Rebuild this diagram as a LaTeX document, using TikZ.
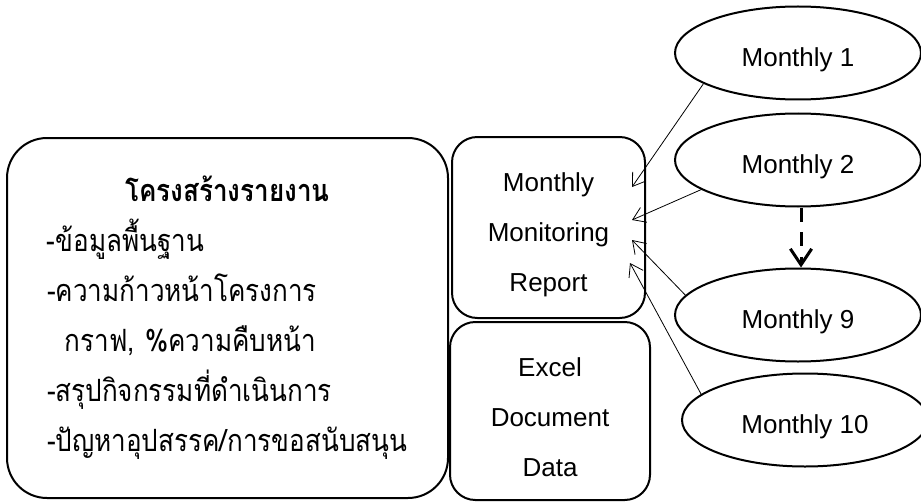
\documentclass[tikz,border=0pt]{standalone}
\usepackage{fontspec}
\setmainfont{Liberation Sans}
\newfontfamily\thaifont[Script=Thai,FakeStretch=0.85]{Loma}
\usetikzlibrary{shapes.geometric,arrows.meta}

\begin{document}
\begin{tikzpicture}[x=0.75pt,y=-0.75pt,
    box/.style={draw,line width=1.5pt,rounded corners=19pt,align=center,
        font=\fontsize{19.5}{37.5}\selectfont},
    month/.style={draw,ellipse,line width=1.5pt,minimum width=184.5pt,
        minimum height=69.75pt,text height=20pt,text depth=0pt,
        font=\fontsize{19.5}{23}\selectfont},
    feed/.style={-{Straight Barb[length=9pt,width=12pt]},line width=0.6pt}]
    % Frame
    \useasboundingbox (0,0) rectangle (921,503);

    % Report structure
    \node[box,rounded corners=30pt,minimum width=330.75pt,minimum height=270pt,
        text width=270.75pt,align=left,font=\thaifont\fontsize{23}{37.5}\selectfont]
        (structure) at (227.5,318)
        {\makebox[\linewidth]{\bfseries โครงสร้างรายงาน}\\
         \mbox{-ข้อมูลพื้นฐาน}\\
         \mbox{-ความก้าวหน้าโครงการ}\\
         \mbox{\hspace*{13.5pt}กราฟ, \%ความคืบหน้า}\\
         \mbox{-สรุปกิจกรรมที่ดำเนินการ}\\
         \mbox{-ปัญหาอุปสรรค/การขอสนับสนุน}};

    % Outputs
    \node[box,minimum width=144.75pt,minimum height=135.75pt] (report) at (548.5,227.5)
        {\rule{0pt}{25pt}Monthly\\Monitoring\\Report};
    \node[box,minimum width=150pt,minimum height=133.5pt] (excel) at (550,411)
        {\rule{0pt}{23pt}Excel\\Document\\Data};

    % Monthly inputs
    \node[month] (m1) at (798,53) {Monthly 1};
    \node[month] (m2) at (798,160) {Monthly 2};
    \node[month] (m9) at (798,315) {Monthly 9};
    \node[month] (m10) at (805,420) {Monthly 10};

    % Arrows into the report
    \coordinate (in1) at (632,187);
    \coordinate (in2) at (632,220);
    \coordinate (in3) at (632,240);
    \coordinate (in4) at (630,263);
    \draw[feed] (m1.198) -- (in1);
    \draw[feed] (m2.197) -- (in2);
    \draw[feed] (m9.170) -- (in3);
    \draw[feed] (m10.166) -- (in4);

    % Skipped months
    \draw[line width=2.25pt,dash pattern=on 10.5pt off 8pt,
        -{Straight Barb[length=12pt,width=16pt]}]
        ([xshift=2.25pt]m2.south) -- ([xshift=2.25pt]m9.north);
\end{tikzpicture}
\end{document}
